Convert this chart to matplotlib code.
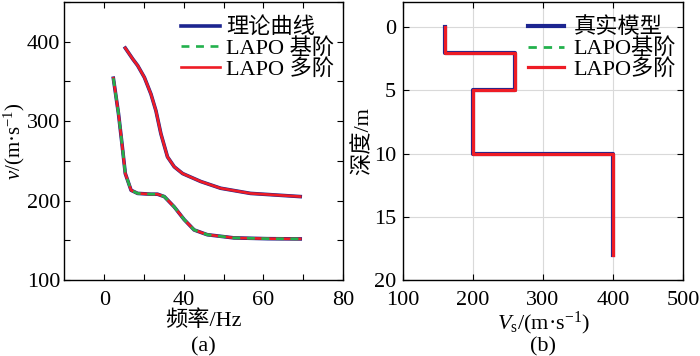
import numpy as np
import matplotlib
matplotlib.use("Agg")
import matplotlib.pyplot as plt

# ---------------- data ----------------
# (a) dispersion curves: frequency (Hz) vs phase velocity (m/s)
freq_fund = [22.3, 23.6, 24.5, 25.3, 26.75, 28.4, 31.75, 33.4, 35.1, 37.6, 40.1,
             42.6, 45.9, 52.6, 61.0, 69.25]
vel_fund = [354, 309, 270, 234, 213, 209, 208, 208, 205, 192, 176,
            163, 157, 153, 152, 151.7]

freq_high = [25.3, 27.2, 28.4, 30.1, 31.75, 33.0, 34.25, 35.9, 37.6, 39.7,
             44.25, 49.25, 56.75, 69.25]
vel_high = [392, 378, 370, 355, 334, 313, 284, 255, 242.5, 234,
            224, 215.5, 209, 205]

# (b) layered Vs model
layer_top = [0, 2, 5, 10]
layer_bottom = [2, 5, 10, 18]
layer_vs = [160, 260, 200, 400]

legend_a = ["理论曲线", "LAPO 基阶", "LAPO 多阶"]
legend_b = ["真实模型", "LAPO基阶", "LAPO多阶"]

# ---------------- style ----------------
plt.rcParams["font.family"] = ["Liberation Serif", "Noto Sans CJK SC"]
plt.rcParams["mathtext.fontset"] = "custom"
plt.rcParams["mathtext.rm"] = "Liberation Serif"
plt.rcParams["mathtext.it"] = "Liberation Serif:italic"
plt.rcParams["font.size"] = 16
plt.rcParams["axes.linewidth"] = 1.0

BLUE = "#1c2590"
GREEN = "#22b14c"
RED = "#ee1c25"

fig = plt.figure(figsize=(7.0, 3.56), dpi=100)
ax1 = fig.add_axes([0.092, 0.2135, 0.398, 0.781])
ax2 = fig.add_axes([0.5757, 0.2135, 0.40, 0.781])

# ---------------- (a) ----------------
ax1.plot(freq_fund, vel_fund, color=BLUE, lw=2.6, zorder=2)
ax1.plot(freq_high, vel_high, color=BLUE, lw=2.6, zorder=2, label=legend_a[0])
ax1.plot(freq_fund, vel_fund, color=RED, lw=1.9, zorder=3)
ax1.plot(freq_high, vel_high, color=RED, lw=1.9, zorder=3)
ax1.plot(freq_fund, vel_fund, color=GREEN, lw=1.9, ls=(0, (3, 2.5)), zorder=4,
         label=legend_a[1])
ax1.plot([], [], color=RED, lw=1.9, label=legend_a[2])

ax1.set_xlim(10, 80)
ax1.set_ylim(100, 450)
ax1.set_xticks(np.arange(20, 81, 10))
ax1.set_xticklabels(["0", "", "40", "", "60", "", "80"])
ax1.set_yticks(np.arange(100, 451, 50))
ax1.set_yticklabels(["100", "", "200", "", "300", "", "400", ""])
ax1.tick_params(direction="in", length=4, top=True, right=True)
ax1.tick_params(axis="x", pad=8)
ax1.tick_params(axis="y", pad=3)
ax1.set_xlabel("频率/Hz", labelpad=0)
ax1.set_ylabel(r"$v$/(m·s$^{-1}$)", fontsize=15)
ax1.yaxis.set_label_coords(-0.133, 0.5)
ax1.legend(loc="upper right", bbox_to_anchor=(1.025, 1.0), frameon=False,
           handlelength=1.75, handletextpad=0.3, labelspacing=0.0,
           borderaxespad=0.5, borderpad=0.2)
ax1.text(0.5, -0.242, "(a)", transform=ax1.transAxes, ha="center", va="center")

# ---------------- (b) ----------------
depth = np.column_stack([layer_top, layer_bottom]).ravel()
vs = np.repeat(layer_vs, 2)
ax2.plot(vs, depth, color=BLUE, lw=3.0, zorder=2, label=legend_b[0])
ax2.plot(vs, depth, color=GREEN, lw=2.0, ls=(0, (3, 2.5)), zorder=3,
         label=legend_b[1])
ax2.plot(vs, depth, color=RED, lw=2.3, zorder=4, label=legend_b[2])

ax2.set_xlim(100, 500)
ax2.set_ylim(20, -2)
ax2.set_xticks([100, 200, 300, 400, 500])
ax2.set_yticks([0, 5, 10, 15, 20])
ax2.grid(True, color="#d9d9d9", lw=0.8)
ax2.set_axisbelow(True)
ax2.tick_params(direction="in", length=4, top=True, right=True)
ax2.tick_params(axis="x", pad=8)
ax2.tick_params(axis="y", pad=5)
ax2.set_xlabel(r"$V_{\mathrm{s}}$/(m·s$^{-1}$)", labelpad=0)
ax2.set_ylabel("深度/m")
ax2.yaxis.set_label_coords(-0.107, 0.5)
ax2.legend(loc="upper right", bbox_to_anchor=(1.03, 1.0), frameon=False,
           handlelength=1.65, handletextpad=0.4, labelspacing=0.0,
           borderaxespad=0.5, borderpad=0.2)
ax2.text(0.5, -0.242, "(b)", transform=ax2.transAxes, ha="center", va="center")

fig.savefig("out.png", dpi=100)
